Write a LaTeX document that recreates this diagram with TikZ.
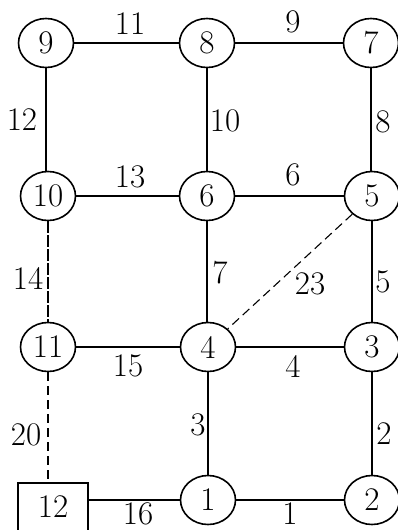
\documentclass[tikz,border=0pt]{standalone}
\usetikzlibrary{shapes.geometric}
\begin{document}
\begin{tikzpicture}[x=1pt,y=-1pt,
  vert/.style={ellipse,draw,line width=1.6pt,minimum width=55pt,minimum height=49pt,inner sep=0pt,fill=white},
  sq/.style={rectangle,draw,line width=1.6pt,minimum width=70pt,minimum height=48pt,inner sep=0pt,fill=white},
  edge/.style={line width=1.1pt},
  dedge/.style={line width=1.1pt,dash pattern=on 9pt off 5pt},
  ddedge/.style={line width=1.6pt,dash pattern=on 12pt off 2pt},
  lab/.style={inner sep=0pt},
  every node/.style={font=\fontsize{33}{36}\selectfont}]
\useasboundingbox (0,0) rectangle (398,530);
\node[vert] (n9) at (46,43) {9};
\node[vert] (n8) at (207,43) {8};
\node[vert] (n7) at (371,43) {7};
\node[vert] (n10) at (48,196) {10};
\node[vert] (n6) at (207,196) {6};
\node[vert] (n5) at (372,196) {5};
\node[vert] (n11) at (48,347) {11};
\node[vert] (n4) at (208,347) {4};
\node[vert] (n3) at (372,347) {3};
\node[sq] (n12) at (53,507) {12};
\node[vert] (n1) at (208,500) {1};
\node[vert] (n2) at (372,500) {2};
\draw[edge] (n9) -- (n8);
\draw[edge] (n8) -- (n7);
\draw[edge] (n9) -- (n9 |- n10.north);
\draw[edge] (n8) -- (n6);
\draw[edge] (n7) -- (n7 |- n5.north);
\draw[edge] (n10) -- (n6);
\draw[edge] (n6) -- (n5);
\draw[ddedge] (n10) -- (n11);
\draw[edge] (n6.south) -- (n6.south |- n4.north);
\draw[dedge] (n5) -- (n4);
\draw[edge] (n5) -- (n3);
\draw[edge] (n11) -- (n4);
\draw[edge] (n4) -- (n3);
\draw[dedge] (n11.south) -- (n11.south |- n12.north);
\draw[edge] (n4) -- (n1);
\draw[edge] (n3) -- (n2);
\draw[edge] (n12.east |- n1.west) -- (n1.west);
\draw[edge] (n1) -- (n2);
\node[lab] (l11) at (130,24) {11};
\node[lab] (l9) at (293,22) {9};
\node[lab] (l12) at (22,120) {12};
\node[lab] (l10) at (225,121) {10};
\node[lab] (l8) at (383,122) {8};
\node[lab] (l13) at (130,177) {13};
\node[lab] (l6) at (293,175) {6};
\node[lab] (l14) at (28,278) {14};
\node[lab] (l7) at (220,273) {7};
\node[lab] (l23) at (310,284) {23};
\node[lab] (l5) at (383,282) {5};
\node[lab] (l15) at (128,366) {15};
\node[lab] (l4) at (293,366) {4};
\node[lab] (l3) at (198,425) {3};
\node[lab] (l2) at (384,434) {2};
\node[lab] (l20) at (26,435) {20};
\node[lab] (l16) at (138,514) {16};
\node[lab] (l1) at (290,514) {1};
\end{tikzpicture}
\end{document}
